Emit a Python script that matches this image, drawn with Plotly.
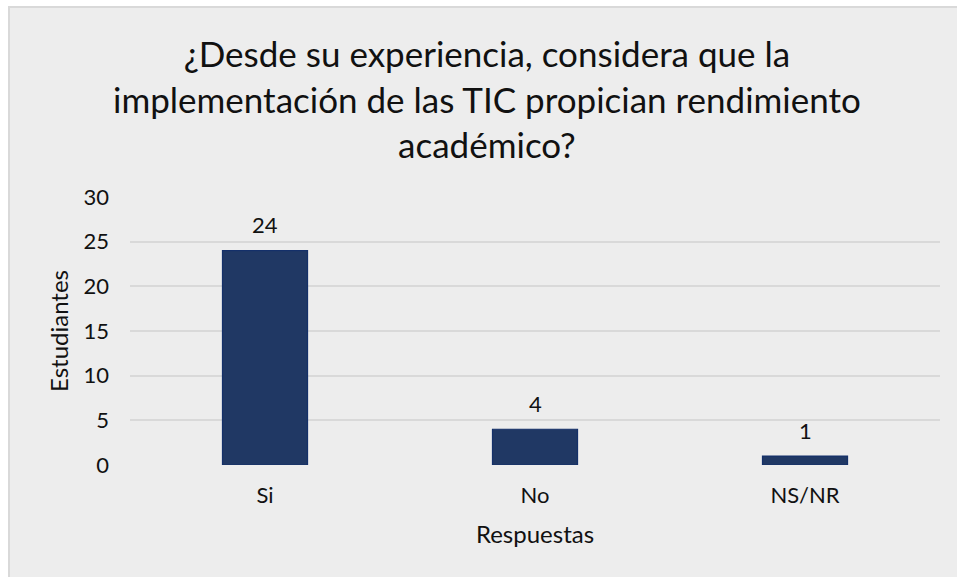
import plotly.graph_objects as go

categories = ["Si", "No", "NS/NR"]
values = [24, 4, 1]
y_ticks = [0, 5, 10, 15, 20, 25, 30]
title_lines = ["¿Desde su experiencia, considera que la",
               "implementación de las TIC propician rendimiento",
               "académico?"]
x_title = "Respuestas"
y_title = "Estudiantes"

FONT = "Lato"
TXT = "#111111"

W, H = 957, 577
L, R, T, B = 130, 17, 197, 112
pw, ph = W - L - R, H - T - B

def px_x(px):
    return (px - L) / pw

def px_y(py):
    return (H - B - py) / ph

fig = go.Figure()
fig.add_trace(go.Bar(
    x=categories, y=values, width=0.315,
    marker=dict(color="#203864", line=dict(color="#14306A", width=1.2)),
    hoverinfo="skip",
))

annotations = [
    dict(x=c, y=v, xref="x", yref="y", text=str(v), showarrow=False,
         yanchor="middle", yshift=26, font=dict(family=FONT, size=22, color=TXT))
    for c, v in zip(categories, values)
]
annotations.append(dict(
    x=px_x(487), y=px_y(30), xref="paper", yref="paper",
    text="<br>".join(title_lines), showarrow=False, xanchor="center", yanchor="top",
    align="center", font=dict(family=FONT, size=35, color=TXT)))

fig.update_layout(
    width=W, height=H,
    margin=dict(l=L, r=R, t=T, b=B, pad=0),
    paper_bgcolor="white",
    plot_bgcolor="rgba(0,0,0,0)",
    showlegend=False,
    annotations=annotations,
    shapes=[dict(type="rect", xref="paper", yref="paper", layer="below",
                 x0=px_x(9), x1=px_x(1010), y0=px_y(7), y1=px_y(630),
                 fillcolor="#EDEDED", line=dict(color="#D9D9D9", width=2))],
    xaxis=dict(
        showgrid=False, zeroline=False, showline=False, ticks="",
        tickfont=dict(family=FONT, size=22, color=TXT),
        ticklabelstandoff=15,
        title=dict(text=x_title, font=dict(family=FONT, size=24, color=TXT), standoff=19),
    ),
    yaxis=dict(
        range=[0, 30], tickvals=y_ticks, showgrid=True, gridcolor="#D9D9D9", gridwidth=1.5,
        zeroline=False, showline=False, ticks="",
        tickfont=dict(family=FONT, size=22, color=TXT),
        ticklabelstandoff=20,
        title=dict(text=y_title, font=dict(family=FONT, size=24, color=TXT), standoff=8),
    ),
)

fig.write_html("out.html",
               config={"displayModeBar": False},
               post_script="document.body.style.margin='0';document.body.style.overflow='hidden';")
